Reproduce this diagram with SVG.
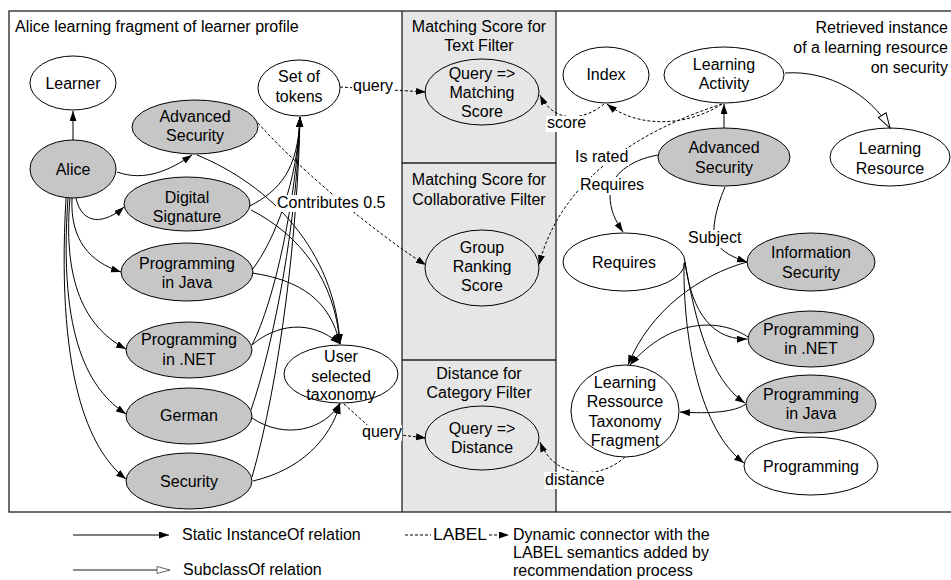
<svg xmlns="http://www.w3.org/2000/svg" width="951" height="580" viewBox="0 0 951 580">
<style>
.t{font-family:"Liberation Sans",Arial,sans-serif;font-size:16px;fill:#000}
.c{text-anchor:middle}
.w{fill:#fff;stroke:#000;stroke-width:1}
.g{fill:#c6c6c6;stroke:#000;stroke-width:1}
.m{fill:#e6e6e6;stroke:#000;stroke-width:1}
.s{fill:none;stroke:#000;stroke-width:1;marker-end:url(#arr)}
.d{fill:none;stroke:#000;stroke-width:1;stroke-dasharray:3,2;marker-end:url(#arr)}
.lb{fill:#fff;stroke:none}
</style>
<defs>
<marker id="arr" markerUnits="userSpaceOnUse" markerWidth="11" markerHeight="8" refX="10" refY="3.5" orient="auto">
<path d="M0,0 L10,3.5 L0,7 z" fill="#000"/>
</marker>
<marker id="tri" markerUnits="userSpaceOnUse" markerWidth="18" markerHeight="12" refX="16" refY="5.5" orient="auto">
<path d="M1,1 L16,5.5 L1,10 z" fill="#fff" stroke="#000" stroke-width="1"/>
</marker>
<marker id="trig" markerUnits="userSpaceOnUse" markerWidth="16" markerHeight="10" refX="14" refY="4.5" orient="auto">
<path d="M1,1 L14,4.5 L1,8 z" fill="#fff" stroke="#666" stroke-width="1"/>
</marker>
</defs>
<rect width="951" height="580" fill="#fff"/>
<g id="frame">
<rect x="402" y="11" width="154" height="501" fill="#e6e6e6"/>
<rect x="9" y="11" width="950" height="501" fill="none" stroke="#222" stroke-width="1.3"/>
<line x1="402" y1="11" x2="402" y2="512" stroke="#222" stroke-width="1.3"/>
<line x1="556" y1="11" x2="556" y2="512" stroke="#222" stroke-width="1.3"/>
<line x1="402" y1="163" x2="556" y2="163" stroke="#222" stroke-width="1.3"/>
<line x1="402" y1="360" x2="556" y2="360" stroke="#222" stroke-width="1.3"/>
<text class="t" x="15" y="32">Alice learning fragment of learner profile</text>
<text class="t c" x="479" y="32">Matching Score for</text>
<text class="t c" x="479" y="51">Text Filter</text>
<text class="t c" x="479" y="185">Matching Score for</text>
<text class="t c" x="479" y="205">Collaborative Filter</text>
<text class="t c" x="479" y="379">Distance for</text>
<text class="t c" x="479" y="398">Category Filter</text>
<text class="t" text-anchor="end" x="948" y="33">Retrieved instance</text>
<text class="t" text-anchor="end" x="948" y="53">of a learning resource</text>
<text class="t" text-anchor="end" x="948" y="73">on security</text>
</g>
<g id="nodes">
<g id="learner"><ellipse class="w" cx="73" cy="83" rx="43" ry="27"/><text class="t c" x="73" y="89">Learner</text></g>
<g id="alice"><ellipse class="g" cx="73" cy="169" rx="43" ry="29"/><text class="t c" x="73" y="175">Alice</text></g>
<g id="advsec-l"><ellipse class="g" cx="195" cy="127" rx="63" ry="27"/><text class="t c" x="195" y="122">Advanced</text><text class="t c" x="195" y="141">Security</text></g>
<g id="digsig"><ellipse class="g" cx="187" cy="204" rx="63" ry="27"/><text class="t c" x="187" y="203">Digital</text><text class="t c" x="187" y="222">Signature</text></g>
<g id="tokens"><ellipse class="w" cx="299" cy="88" rx="41" ry="28"/><text class="t c" x="299" y="82">Set of</text><text class="t c" x="299" y="102">tokens</text></g>
<g id="java-l"><ellipse class="g" cx="187" cy="272" rx="66" ry="29"/><text class="t c" x="187" y="269">Programming</text><text class="t c" x="187" y="288">in Java</text></g>
<g id="net-l"><ellipse class="g" cx="189" cy="350" rx="63" ry="28"/><text class="t c" x="189" y="345">Programming</text><text class="t c" x="189" y="365">in .NET</text></g>
<g id="german"><ellipse class="g" cx="189" cy="416" rx="63" ry="28"/><text class="t c" x="189" y="421">German</text></g>
<g id="security-l"><ellipse class="g" cx="189" cy="481" rx="63" ry="28"/><text class="t c" x="189" y="487">Security</text></g>
<g id="usertax"><ellipse class="w" cx="341" cy="374" rx="57" ry="29"/><text class="t c" x="341" y="362">User</text><text class="t c" x="341" y="382">selected</text><text class="t c" x="341" y="400">taxonomy</text></g>
<g id="qms"><ellipse class="m" cx="482" cy="92" rx="57" ry="33"/><text class="t c" x="482" y="79">Query =&gt;</text><text class="t c" x="482" y="98">Matching</text><text class="t c" x="482" y="117">Score</text></g>
<g id="grs"><ellipse class="m" cx="482" cy="268" rx="57" ry="38"/><text class="t c" x="482" y="253">Group</text><text class="t c" x="482" y="272">Ranking</text><text class="t c" x="482" y="291">Score</text></g>
<g id="qd"><ellipse class="m" cx="482" cy="438" rx="57" ry="32"/><text class="t c" x="482" y="434">Query =&gt;</text><text class="t c" x="482" y="453">Distance</text></g>
<g id="index"><ellipse class="w" cx="606" cy="75" rx="43" ry="28"/><text class="t c" x="606" y="80">Index</text></g>
<g id="lact"><ellipse class="w" cx="724" cy="75" rx="60" ry="28"/><text class="t c" x="724" y="70">Learning</text><text class="t c" x="724" y="89">Activity</text></g>
<g id="lres"><ellipse class="w" cx="890" cy="157" rx="60" ry="29"/><text class="t c" x="890" y="154">Learning</text><text class="t c" x="890" y="174">Resource</text></g>
<g id="advsec-r"><ellipse class="g" cx="724" cy="157" rx="66" ry="29"/><text class="t c" x="724" y="153">Advanced</text><text class="t c" x="724" y="173">Security</text></g>
<g id="requires"><ellipse class="w" cx="624" cy="262" rx="61" ry="29"/><text class="t c" x="624" y="268">Requires</text></g>
<g id="infosec"><ellipse class="g" cx="811" cy="262" rx="64" ry="29"/><text class="t c" x="811" y="258">Information</text><text class="t c" x="811" y="278">Security</text></g>
<g id="net-r"><ellipse class="g" cx="811" cy="339" rx="63" ry="28"/><text class="t c" x="811" y="335">Programming</text><text class="t c" x="811" y="354">in .NET</text></g>
<g id="java-r"><ellipse class="g" cx="811" cy="404" rx="65" ry="29"/><text class="t c" x="811" y="400">Programming</text><text class="t c" x="811" y="419">in Java</text></g>
<g id="programming"><ellipse class="w" cx="811" cy="466" rx="67" ry="29"/><text class="t c" x="811" y="472">Programming</text></g>
<g id="lrtf"><ellipse class="w" cx="625" cy="411" rx="54" ry="46"/><text class="t c" x="625" y="388">Learning</text><text class="t c" x="625" y="407">Ressource</text><text class="t c" x="625" y="427">Taxonomy</text><text class="t c" x="625" y="446">Fragment</text></g>
</g>
<g id="connectors">
<path class="s" d="M73,140 L73,111"/>
<path class="s" d="M117,172 C145,182 170,170 192,155"/>
<path class="s" d="M76,198 C82,226 105,224 124,207"/>
<path class="s" d="M72,198 C70,240 90,262 121,272"/>
<path class="s" d="M70,198 C62,290 90,330 126,349"/>
<path class="s" d="M68,198 C58,340 90,390 126,414"/>
<path class="s" d="M66,198 C55,390 95,455 126,479"/>
<path class="s" d="M250,206 C280,190 298,170 300,117"/>
<path class="s" d="M252,270 C275,240 298,180 300,117"/>
<path class="s" d="M252,345 C275,300 296,200 300,117"/>
<path class="s" d="M251,410 C275,340 297,220 300,117"/>
<path class="s" d="M252,477 C280,380 298,230 300,117"/>
<path class="s" d="M197,155 C270,185 335,250 340,344"/>
<path class="s" d="M251,210 C300,235 335,280 340,344"/>
<path class="s" d="M252,273 C300,280 330,300 340,344"/>
<path class="s" d="M252,345 C275,325 310,318 340,344"/>
<path class="s" d="M252,418 C285,440 325,430 340,403"/>
<path class="s" d="M253,481 C300,470 330,440 340,404"/>
<path class="d" d="M258,123 C290,160 370,230 426,265"/>
<path class="d" d="M340,87 L426,92"/>
<path class="d" d="M344,404 L375,432 L426,438"/>
<path class="d" d="M722,104 C640,130 560,180 539,265"/>
<path class="d" d="M722,104 C690,125 640,130 607,104"/>
<path class="d" d="M604,104 C585,120 555,125 540,95"/>
<path class="d" d="M625,457 C600,480 555,480 540,442"/>
<path class="s" d="M724,128 L724,104"/>
<path fill="none" stroke="#000" d="M785,73 C830,70 870,95 890,128" marker-end="url(#tri)"/>
<path class="s" d="M658,155 C630,160 610,175 610,195 C610,210 615,220 623,232"/>
<path class="s" d="M725,187 C715,210 712,230 715,240 C720,252 735,258 747,262"/>
<path class="s" d="M747,262 C700,275 650,310 628,365"/>
<path class="s" d="M748,337 C720,318 670,318 630,365"/>
<path class="s" d="M746,404 C735,412 710,414 680,412"/>
<path class="s" d="M685,262 C690,300 705,340 747,339"/>
<path class="s" d="M685,262 C695,320 710,380 745,403"/>
<path class="s" d="M684,263 C683,340 700,430 744,463"/>
<rect class="lb" x="276" y="195" width="111" height="17"/><text class="t" x="277" y="208">Contributes 0.5</text>
<rect class="lb" x="352" y="79" width="42" height="16"/><text class="t" x="353" y="91">query</text>
<rect class="lb" x="361" y="425" width="41" height="16"/><text class="t" x="362" y="437">query</text>
<rect class="lb" x="546" y="116" width="41" height="16"/><text class="t" x="547" y="128">score</text>
<rect class="lb" x="574" y="149" width="55" height="17"/><text class="t" x="575" y="162">Is rated</text>
<rect class="lb" x="579" y="177" width="66" height="18"/><text class="t" x="580" y="190">Requires</text>
<rect class="lb" x="687" y="230" width="55" height="18"/><text class="t" x="688" y="243">Subject</text>
<rect class="lb" x="544" y="472" width="62" height="17"/><text class="t" x="545" y="485">distance</text>
</g>
<g id="legend">
<path class="s" d="M73,535 L169,535"/>
<text class="t" x="182" y="540">Static InstanceOf relation</text>
<path fill="none" stroke="#666" stroke-width="1.5" d="M73,570 L170,570" marker-end="url(#trig)"/>
<text class="t" x="183" y="575">SubclassOf relation</text>
<path fill="none" stroke="#000" stroke-dasharray="3,2" d="M405,535 L431,535"/>
<text class="t" x="433" y="540" textLength="54" lengthAdjust="spacingAndGlyphs">LABEL</text>
<path class="d" d="M489,535 L509,535"/>
<text class="t" x="513" y="540">Dynamic connector with the</text>
<text class="t" x="513" y="558">LABEL semantics added by</text>
<text class="t" x="513" y="576">recommendation process</text>
</g>
</svg>
